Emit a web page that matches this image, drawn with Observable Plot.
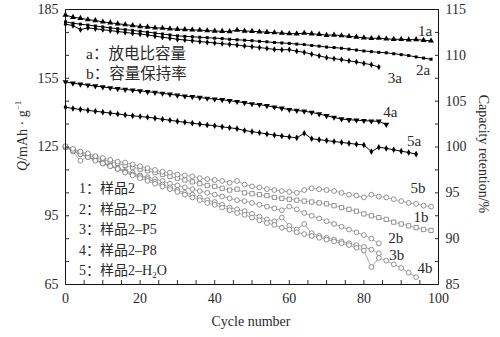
<!DOCTYPE html>
<html><head><meta charset="utf-8">
<script src="https://cdn.jsdelivr.net/npm/d3@7"></script>
<script src="https://cdn.jsdelivr.net/npm/@observablehq/plot@0.6"></script>
<style>
body{margin:0;background:#fff;}
#chart{position:relative;width:500px;height:337px;font-family:"Liberation Serif","Noto Sans CJK SC",serif;color:#2a2a2a;}
.lab{position:absolute;white-space:nowrap;font-size:14px;line-height:1;}
.leg{position:absolute;white-space:nowrap;line-height:1;}
sub{font-size:9px;vertical-align:-3px;}
</style></head><body><div id="chart"></div>
<script>
// cycle step between recorded points
const cycleStep = 2;
// Specific discharge capacity Q (mAh/g), left axis
const q1a = [182.6,181.6,181.2,180.6,180.2,179.6,179.2,178.8,178.4,178.0,177.6,177.4,177.0,176.9,176.6,176.4,176.3,176.1,176.0,175.8,175.6,175.5,175.4,176.0,175.6,175.5,175.3,175.1,174.9,174.7,174.5,174.4,174.7,174.4,174.2,173.8,173.9,173.6,173.3,173.0,172.7,172.4,172.5,172.2,172.0,172.0,171.8,171.9,171.6,171.3];
const q2a = [179.6,179.0,178.6,178.2,177.8,177.4,177.0,176.6,176.2,175.9,175.5,175.1,174.7,174.3,173.9,173.5,173.3,173.1,172.9,172.7,172.5,172.3,172.0,171.8,171.6,171.4,171.1,170.9,170.6,170.4,170.2,169.9,169.7,169.3,169.0,168.6,168.4,168.1,167.7,167.3,166.9,166.6,166.3,166.1,165.7,165.3,164.9,164.3,163.8,163.3];
const q3a = [178.6,178.0,176.2,177.0,176.6,176.2,175.8,175.4,175.0,174.6,174.3,173.9,173.4,172.9,172.5,172.0,171.7,171.4,171.0,170.7,170.4,170.1,169.8,169.5,169.1,168.8,168.4,168.0,167.6,167.4,167.5,166.8,166.3,165.5,164.8,164.0,163.6,163.1,162.6,162.1,161.5,160.9,159.9];
const q4a = [153.4,152.8,152.4,152.0,151.6,151.2,150.8,150.4,150.1,149.8,149.5,149.1,148.8,148.4,148.0,147.6,147.2,146.9,146.6,146.2,145.9,145.6,145.2,144.8,144.3,143.8,143.5,143.0,142.4,141.9,141.3,140.9,140.6,140.1,139.4,138.6,137.9,137.2,136.9,136.7,136.5,136.3,136.2,134.8];
const q5a = [142.4,141.8,141.4,141.0,140.6,140.2,139.8,139.4,139.0,138.6,138.3,138.0,137.6,137.1,136.7,136.2,135.8,135.4,135.0,134.6,134.3,133.8,133.4,133.0,132.2,131.7,131.2,130.7,130.2,129.8,129.4,129.0,131.0,128.6,128.2,127.8,127.4,127.0,126.6,126.2,125.9,123.0,124.9,124.4,123.8,123.2,122.6,121.9];
// Capacity retention (%), right axis
const r1b = [100.0,99.7,99.4,99.1,98.9,98.6,98.4,98.2,98.0,97.8,97.6,97.4,97.2,97.0,96.8,96.6,96.4,96.2,96.0,95.8,95.7,95.5,95.3,95.4,95.0,94.9,94.8,94.7,94.5,94.4,94.3,94.2,94.1,94.0,93.9,93.8,93.6,93.4,93.2,93.0,92.7,92.5,92.3,92.1,91.8,91.6,91.4,91.2,91.0,90.9];
const r2b = [100.0,99.6,99.2,98.9,98.6,98.3,98.0,97.7,97.4,97.2,96.9,96.7,96.5,96.3,96.0,95.8,95.6,95.4,95.2,95.0,94.8,94.6,94.4,94.2,94.1,93.9,93.7,93.5,93.3,93.1,93.5,93.2,92.8,92.5,92.2,91.9,91.6,91.3,91.0,90.7,90.4,90.0,89.5];
const r3b = [100.0,99.5,98.5,99.0,98.6,98.2,97.9,97.6,97.3,97.0,96.8,96.5,96.2,95.9,95.6,95.3,95.0,94.8,94.5,94.2,94.0,93.7,93.4,93.2,93.0,92.7,92.4,92.1,91.9,92.3,91.4,91.0,91.6,90.6,90.3,90.1,89.9,89.7,89.5,89.3,89.1,88.8,88.4];
const r4b = [100.0,99.6,99.2,98.9,98.5,98.2,97.9,97.6,97.2,96.9,96.6,96.3,96.0,95.7,95.4,95.1,94.8,94.5,94.2,93.9,93.7,93.4,93.1,92.8,92.6,92.3,92.0,91.7,91.5,91.2,91.0,90.7,90.5,90.3,90.1,89.9,89.7,89.5,89.3,89.0,88.7,86.9,87.9,87.6,87.2,86.8,86.3,85.8];
const r5b = [100.1,99.8,99.5,99.3,99.0,98.8,98.6,98.4,98.3,98.1,97.9,97.7,97.5,97.3,97.2,97.0,96.9,96.8,96.6,96.5,96.4,96.3,96.1,96.3,95.9,95.7,95.6,95.4,95.3,95.2,95.1,95.0,95.3,95.5,95.4,95.3,95.2,95.0,94.8,94.7,94.5,94.8,94.6,94.5,94.3,94.1,93.9,93.8,93.6,93.5];
// tick labels
const qTicks = [65,95,125,155,185];
const rTicks = [85,90,95,100,105,110,115];
const xTicks = [0,20,40,60,80,100];
const legendA = ["a：放电比容量","b：容量保持率"];
const legendNum = ["1：样品2","2：样品2–P2","3：样品2–P5","4：样品2–P8","5：样品2–H<sub>2</sub>O"];

// map retention onto the capacity scale (dual axis): 85%↔65, 115%↔185
const rToQ = r => 65 + (r - 85) * 4;
const qToR = q => 85 + (q - 65) / 4;

const seriesA = [
  {key:"1a", v:q1a, symbol:"triangle", rotate:0, r:2.2, dx:-6, dy:-10},
  {key:"2a", v:q2a, symbol:"square", rotate:0, r:1.7, dx:-8, dy:11},
  {key:"3a", v:q3a, symbol:"diamond", rotate:0, r:1.9, dx:16, dy:11},
  {key:"4a", v:q4a, symbol:"triangle", rotate:180, r:2.2, dx:4, dy:-12},
  {key:"5a", v:q5a, symbol:"diamond", rotate:0, r:2.0, dx:-2, dy:-13}
];
const seriesB = [
  {key:"1b", v:r1b, symbol:"square", dx:-10, dy:-13},
  {key:"2b", v:r2b, symbol:"circle", dx:17, dy:-5},
  {key:"3b", v:r3b, symbol:"circle", dx:18, dy:2},
  {key:"4b", v:r4b, symbol:"circle", dx:9, dy:-9},
  {key:"5b", v:r5b, symbol:"circle", dx:-13, dy:-18}
];
const rowsA = s => s.v.map((q,i) => ({key:s.key, cycle:i*cycleStep, q}));
const rowsB = s => s.v.map((r,i) => ({key:s.key, cycle:i*cycleStep, q:rToQ(r)}));

const marks = [];
for (const s of seriesB) {
  const d = rowsB(s);
  marks.push(Plot.line(d, {x:"cycle", y:"q", stroke:"#8a8a8a", strokeWidth:0.7}));
  marks.push(Plot.dot(d, {x:"cycle", y:"q", symbol:s.symbol, r:2.4, stroke:"#777", strokeWidth:0.8, fill:"white"}));
  marks.push(Plot.text([d[d.length-1]], {x:"cycle", y:"q", text:()=>s.key, dx:s.dx, dy:s.dy, fontSize:15, fill:"#2a2a2a"}));
}
for (const s of seriesA) {
  const d = rowsA(s);
  marks.push(Plot.line(d, {x:"cycle", y:"q", stroke:"#000", strokeWidth:1}));
  marks.push(Plot.dot(d, {x:"cycle", y:"q", symbol:s.symbol, r:s.r, rotate:s.rotate, fill:"#000", stroke:"none"}));
  marks.push(Plot.text([d[d.length-1]], {x:"cycle", y:"q", text:()=>s.key, dx:s.dx, dy:s.dy, fontSize:15, fill:"#2a2a2a"}));
}

const chart = Plot.plot({
  width: 500, height: 337,
  marginTop: 9, marginBottom: 53, marginLeft: 65, marginRight: 62,
  style: {fontFamily: '"Liberation Serif","Noto Sans CJK SC",serif', fontSize: "14px", color: "#2a2a2a", background: "white"},
  x: {domain: [0, 100]},
  y: {domain: [65, 185]},
  marks: [
    ...marks,
    Plot.frame({stroke:"#111", strokeWidth:1}),
    Plot.axisY(d3.range(65, 186, 10), {anchor:"left", tickSize:-4, tickFormat:()=>"", label:null}),
    Plot.axisY(qTicks, {anchor:"left", tickSize:0, tickPadding:7, label:null, fontSize:14}),
    Plot.axisY(d3.range(85, 115.01, 2.5).map(rToQ), {anchor:"right", tickSize:-4, tickFormat:()=>"", label:null}),
    Plot.axisY(rTicks.map(rToQ), {anchor:"right", tickSize:0, tickPadding:7, tickFormat:q=>qToR(q), label:null, fontSize:14}),
    Plot.axisX(d3.range(0, 101, 5), {anchor:"bottom", tickSize:-4, tickFormat:()=>"", label:null}),
    Plot.axisX(xTicks, {anchor:"bottom", tickSize:0, tickPadding:9, label:null, fontSize:14})
  ]
});
const root = document.getElementById("chart");
root.appendChild(chart);
function addLabel(html, x, y, rot, cls, size, anchorLeft) {
  const el = document.createElement("div");
  el.className = cls || "lab";
  if (size) el.style.fontSize = size + "px";
  el.innerHTML = html;
  root.appendChild(el);
  const w = el.offsetWidth, h = el.offsetHeight;
  el.style.left = (anchorLeft ? x : x - w/2) + "px";
  el.style.top = (y - h/2) + "px";
  if (rot) el.style.transform = `rotate(${rot}deg)`;
}
legendA.forEach((t,i) => addLabel(t, 86, 54 + i*20, 0, "leg", 15.5, true));
legendNum.forEach((t,i) => addLabel(t, 79, 189 + i*20.7, 0, "leg", 14, true));
addLabel("Cycle number", 251, 322, 0);
addLabel('<i>Q</i>/mAh · g<sup style="font-size:9px">−1</sup>', 22, 136, -90);
addLabel("Capacity retention/%", 483, 154, 90);
</script></body></html>
